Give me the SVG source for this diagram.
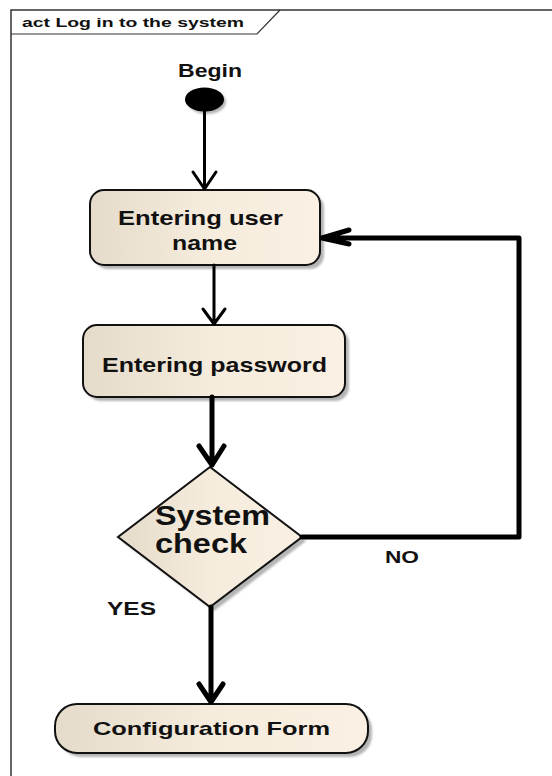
<svg xmlns="http://www.w3.org/2000/svg" width="552" height="776" viewBox="0 0 552 776">
<defs>
<linearGradient id="fillg" x1="0" y1="0" x2="1" y2="0">
<stop offset="0" stop-color="#e5dbca"/>
<stop offset="0.5" stop-color="#f6ecdd"/>
<stop offset="1" stop-color="#faf0e3"/>
</linearGradient>
<filter id="sh" x="-10%" y="-10%" width="130%" height="140%">
<feGaussianBlur stdDeviation="1.2"/>
</filter>
</defs>
<style>
text{font-family:"Liberation Sans",Arial,sans-serif;font-weight:bold;fill:#111}
.node{fill:url(#fillg);stroke:#111;stroke-width:2}
.shadow{fill:#b4b4b4;filter:url(#sh)}
.edge{fill:none;stroke:#000;stroke-linecap:round;stroke-linejoin:round}
</style>
<rect width="552" height="776" fill="#fff"/>
<g id="frame">
<rect x="11" y="10" width="600" height="800" fill="none" stroke="#333" stroke-width="1.5"/>
<polyline points="11,34 257,34 280,10" fill="none" stroke="#333" stroke-width="1.2"/>
<text x="22" y="27" font-size="13" textLength="222" lengthAdjust="spacingAndGlyphs">act Log in to the system</text>
</g>
<g id="begin">
<text x="210" y="77" font-size="19" text-anchor="middle" textLength="64" lengthAdjust="spacingAndGlyphs">Begin</text>
<ellipse cx="207" cy="102" rx="19" ry="12" class="shadow"/>
<ellipse cx="204.5" cy="99.5" rx="19.5" ry="12" fill="#000"/>
</g>
<g id="n1">
<rect x="94" y="194" width="230" height="75" rx="14" class="shadow"/>
<rect x="90" y="190" width="230" height="75" rx="14" class="node"/>
<text x="118" y="225" font-size="20.5" textLength="165" lengthAdjust="spacingAndGlyphs">Entering user</text>
<text x="172" y="250" font-size="20.5" textLength="65" lengthAdjust="spacingAndGlyphs">name</text>
</g>
<g id="n2">
<rect x="87" y="329" width="262" height="72" rx="14" class="shadow"/>
<rect x="83" y="325" width="262" height="72" rx="14" class="node"/>
<text x="102" y="372" font-size="20.5" textLength="225" lengthAdjust="spacingAndGlyphs">Entering password</text>
</g>
<g id="decision">
<polygon points="214,471 306,541 214,611 122,541" class="shadow"/>
<polygon points="210,467 302,537 210,607 118,537" class="node"/>
<text x="155" y="525" font-size="27" textLength="115" lengthAdjust="spacingAndGlyphs">System</text>
<text x="155" y="553" font-size="27" textLength="92" lengthAdjust="spacingAndGlyphs">check</text>
</g>
<g id="n3">
<rect x="59" y="708" width="313" height="49" rx="22" class="shadow"/>
<rect x="55" y="704" width="313" height="49" rx="22" class="node"/>
<text x="93" y="735" font-size="19" textLength="237" lengthAdjust="spacingAndGlyphs">Configuration Form</text>
</g>
<g id="connectors">
<path class="edge" stroke-width="3" d="M204.5,111 V189 M193,172 L204.5,189 L216,172"/>
<path class="edge" stroke-width="3" d="M214,265 V324 M203,309 L214,324 L225,309"/>
<path class="edge" stroke-width="5" d="M212,397 V465 M199,446 L212,465 L224,446"/>
<path class="edge" stroke-width="5" d="M211,607 V702 M199,684 L211,702 L223,684"/>
<path class="edge" stroke-width="5" d="M302,537 H519 V238 H322 M349,230 L322,238 L349,244"/>
<text x="385" y="563" font-size="17" textLength="34" lengthAdjust="spacingAndGlyphs">NO</text>
<text x="107" y="615" font-size="18" textLength="49" lengthAdjust="spacingAndGlyphs">YES</text>
</g>
</svg>
